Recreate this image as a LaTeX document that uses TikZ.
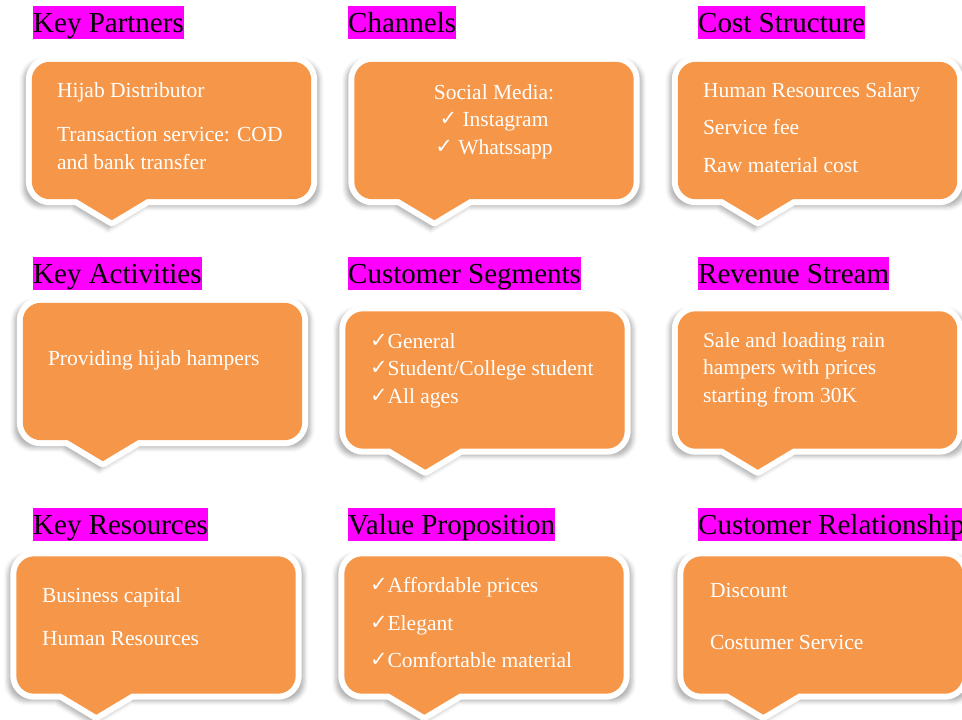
\documentclass[tikz,border=0pt]{standalone}
\usepackage{fontspec}
\setmainfont{Liberation Serif}
\newfontfamily\tickfont{DejaVu Sans}
\usetikzlibrary{positioning,shadows.blur}
\definecolor{myorange}{RGB}{246,150,72}
\definecolor{mymagenta}{RGB}{255,0,255}
\newcommand\tick{\raisebox{1pt}{\tickfont\fontsize{21}{21}\selectfont ✓}}
\newcommand\callout[1]{
    \path[calloutb]
        ([xshift=80pt,yshift=-21pt]#1.south west)
        -- ([xshift=45pt]#1.south west) [rounded corners=18pt]
        -- (#1.south west) -- (#1.north west) -- (#1.north east)
        -- (#1.south east) [sharp corners]
        -- ([xshift=115pt]#1.south west) -- cycle;
}

\begin{document}
\begin{tikzpicture}[x=1pt,y=-1pt,
            boxb/.style={
                minimum width=279pt,
                minimum height=137pt,
                inner sep=0pt},
            calloutb/.style={
                blur shadow={shadow xshift=0pt,shadow yshift=-4pt,
                    shadow scale=1.06,
                    shadow blur radius=4pt,shadow opacity=30},
                preaction={draw=white,line width=12pt,line join=round},
                fill=myorange},
            titleb/.style={
                fill=mymagenta,
                inner sep=0pt,
                anchor=north west,
                text height=26pt,
                text depth=7pt,
                font=\fontsize{29}{34}\selectfont},
            textb/.style={
                text=white,
                inner sep=0pt,
                anchor=north west,
                align=left,
                font=\fontsize{21.5}{27.5}\selectfont},
        ]
        \useasboundingbox (0,0) rectangle (962,720);

        % the nine boxes
        \node[boxb] (KeyPart) at (171.5,130.5) {};
        \node[boxb] (Chan) at (494,130.5) {};
        \node[boxb] (Cost) at (817.5,130.5) {};
        \node[boxb] (KeyAct) at (162.5,371.5) {};
        \node[boxb] (CustSeg) at (485,380) {};
        \node[boxb] (Rev) at (817.5,380) {};
        \node[boxb] (KeyRes) at (156,625) {};
        \node[boxb] (ValProp) at (484,625) {};
        \node[boxb] (CustRel) at (823,625) {};

        \foreach \b in {KeyPart,Chan,Cost,KeyAct,CustSeg,Rev,KeyRes,ValProp,CustRel}
            \callout{\b};

        % titles
        \node[titleb] (KeyPartT) at (33,6) {Key Partners};
        \node[titleb] (ChanT) at (348,6) {Channels};
        \node[titleb] (CostT) at (698,6) {Cost Structure};
        \node[titleb] (KeyActT) at (33,257) {Key Activities};
        \node[titleb] (CustSegT) at (348,257) {Customer Segments};
        \node[titleb] (RevT) at (698,257) {Revenue Stream};
        \node[titleb] (KeyResT) at (33,508) {Key Resources};
        \node[titleb] (ValPropT) at (348,508) {Value Proposition};
        \node[titleb] (CustRelT) at (698,508) {Customer Relationship};

        % box texts
        \node[textb] (KeyPartTxt) at ([xshift=25pt,yshift=-20.5pt]KeyPart.north west)
            {Hijab Distributor\\[17pt]Transaction service: COD\\and bank transfer};
        \node[textb,anchor=north,align=center] (ChanTxt) at ([yshift=-22.5pt]Chan.north)
            {Social Media:\\\tick\ Instagram\\\tick\ Whatssapp};
        \node[textb] (CostTxt) at ([xshift=25pt,yshift=-20.5pt]Cost.north west)
            {Human Resources Salary\\[10pt]Service fee\\[10pt]Raw material cost};
        \node[textb] (KeyActTxt) at ([xshift=25pt,yshift=-47.5pt]KeyAct.north west)
            {Providing hijab hampers};
        \node[textb] (CustSegTxt) at ([xshift=24.5pt,yshift=-22pt]CustSeg.north west)
            {\tick General\\\tick Student/College student\\\tick All ages};
        \node[textb] (RevTxt) at ([xshift=25pt,yshift=-21pt]Rev.north west)
            {Sale and loading rain\\hampers with prices\\starting from 30K};
        \node[textb] (KeyResTxt) at ([xshift=25.5pt,yshift=-31pt]KeyRes.north west)
            {Business capital\\[15.5pt]Human Resources};
        \node[textb] (ValPropTxt) at ([xshift=25.5pt,yshift=-21pt]ValProp.north west)
            {\tick Affordable prices\\[10pt]\tick Elegant\\[10pt]\tick Comfortable material};
        \node[textb] (CustRelTxt) at ([xshift=26.5pt,yshift=-27pt]CustRel.north west)
            {Discount\\[24.5pt]Costumer Service};
    \end{tikzpicture}
\end{document}
